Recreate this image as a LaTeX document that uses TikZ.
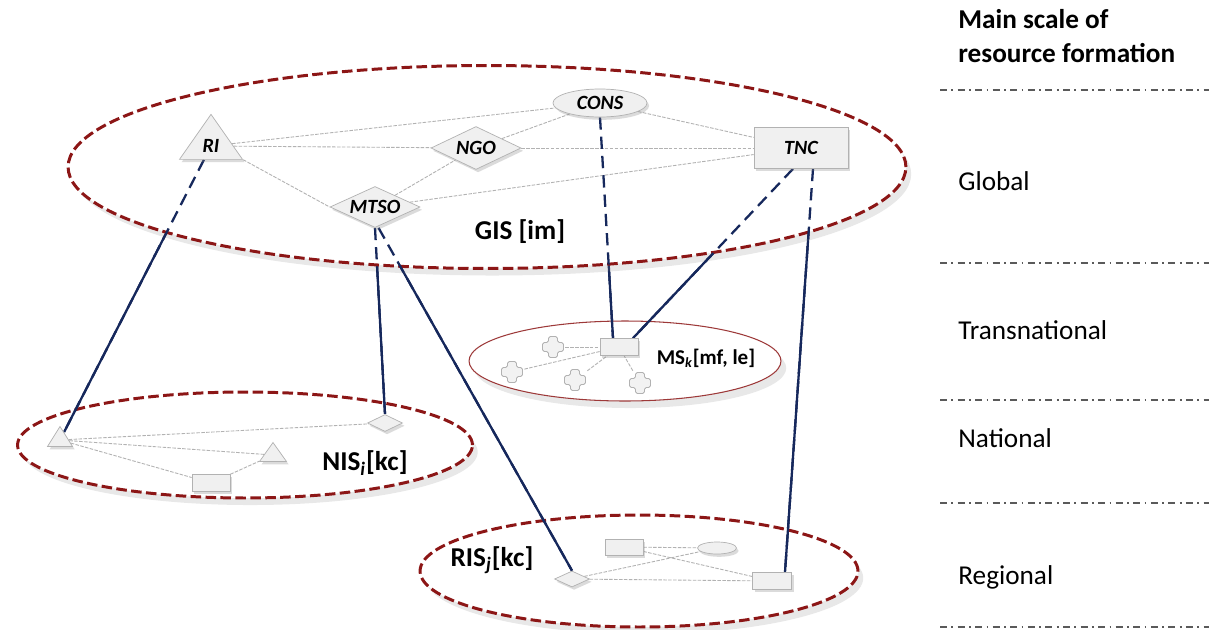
\documentclass[tikz,border=0pt]{standalone}
\usepackage{fontspec}
\setmainfont{Carlito}
\usetikzlibrary{calc}
\usetikzlibrary{positioning}
\usetikzlibrary{shapes.geometric}
\usetikzlibrary{shadows}
\definecolor{ringred}{RGB}{140,22,22}
\definecolor{linkblue}{RGB}{22,40,92}
\definecolor{levelgray}{RGB}{90,90,90}
\pgfdeclarelayer{ring}
\pgfdeclarelayer{wire}
\pgfdeclarelayer{cover}
\pgfdeclarelayer{link}
\pgfsetlayers{ring,wire,cover,link,main}
\tikzset{
	softshadow/.style={drop shadow={shadow xshift=1.2pt, shadow yshift=-1.6pt, opacity=0.28}},
	ringshadow/.style={drop shadow={shadow xshift=3pt, shadow yshift=-4pt, opacity=0.18}},
	scalering/.style={
		ellipse,
		draw=ringred, line width=1.7pt,
		dash pattern=on 6pt off 2.5pt,
		fill=white,
		ringshadow},
	thinring/.style={
		ellipse,
		draw=ringred!85, line width=0.6pt,
		fill=white,
		ringshadow},
	actor/.style={
		draw=gray!60,
		fill=gray!12,
		inner sep=1pt,
		font=\fontsize{11.5}{13}\selectfont\bfseries\itshape,
		softshadow},
	tri/.style={actor, isosceles triangle, isosceles triangle stretches, shape border rotate=90},
	diam/.style={actor, diamond, aspect=2.2, inner sep=0pt},
	oval/.style={actor, ellipse},
	box/.style={actor, rectangle},
	unit/.style={
		minimum size=0.48cm, inner sep=0pt,
		path picture={
			\filldraw[fill=gray!10, draw=gray!60, line width=0.5pt, rounded corners=1pt]
				([shift={(-4.5,-10.5)}]path picture bounding box.center) -- ++(9,0) -- ++(0,6) -- ++(6,0)
				-- ++(0,9) -- ++(-6,0) -- ++(0,6) -- ++(-9,0) -- ++(0,-6) -- ++(-6,0) -- ++(0,-9)
				-- ++(6,0) -- cycle;}},
	tie/.style={draw=gray!60, line width=0.5pt, dash pattern=on 2pt off 0.8pt},
	bond/.style={draw=linkblue, line width=1.3pt},
	bonddash/.style={bond, dash pattern=on 7pt off 4pt},
	scaletag/.style={anchor=base west, inner sep=0pt, font=\fontsize{15.5}{18}\selectfont\bfseries},
	leveltag/.style={anchor=base west, inner sep=0pt, font=\fontsize{15.5}{18}\selectfont},
	levelline/.style={draw=levelgray, line width=0.8pt, dash pattern=on 4pt off 2.5pt on 1pt off 2.5pt},
}

\begin{document}
\begin{tikzpicture}[x=0.02cm, y=-0.02cm]
	\useasboundingbox (0,0) rectangle (1209,629);

	% the scales of resource formation
	\begin{pgfonlayer}{ring}
		\node[thinring, minimum width=6.24cm, minimum height=1.6cm] (ms) at (625,361) {};
		\node[scalering, minimum width=9.1cm, minimum height=2.12cm] (nis) at (245,445) {};
		\node[scalering, minimum width=8.76cm, minimum height=2.24cm] (ris) at (639,571) {};
	\end{pgfonlayer}
	\begin{pgfonlayer}{cover}
		\node[scalering, minimum width=16.76cm, minimum height=4.06cm] (gis) at (487,167) {};
	\end{pgfonlayer}

	% GIS
	\node[tri, minimum width=1.26cm, minimum height=0.9cm] (ri) at (211,146) {RI};
	\node[diam, minimum width=1.8cm, minimum height=0.86cm] (ngo) at (476,148) {NGO};
	\node[diam, minimum width=1.8cm, minimum height=0.82cm] (mtso) at (375,207) {MTSO};
	\node[oval, minimum width=1.88cm, minimum height=0.56cm] (cons) at (600,103) {CONS};
	\node[box, minimum width=1.88cm, minimum height=0.82cm] (tnc) at (801,148) {TNC};
	\node[font=\fontsize{15.5}{18}\selectfont\bfseries] (gislabel) at (520,232) {GIS [im]};

	% MS
	\node[box, minimum width=0.76cm, minimum height=0.34cm] (msb) at (619,347) {};
	\node[unit] (p1) at (553,347) {};
	\node[unit] (p2) at (512,372) {};
	\node[unit] (p3) at (575,380) {};
	\node[unit] (p4) at (640,383) {};
	\node[font=\fontsize{12}{14}\selectfont\bfseries] (mslabel) at (706,358) {MS\textsubscript{\itshape k}[mf, le]};

	% NIS
	\node[tri, minimum width=0.5cm, minimum height=0.4cm] (tl) at (60,440) {};
	\node[tri, minimum width=0.54cm, minimum height=0.38cm] (tr) at (273,455) {};
	\node[box, minimum width=0.76cm, minimum height=0.34cm] (nb) at (211,483) {};
	\node[diam, minimum width=0.7cm, minimum height=0.34cm] (nd) at (385,423) {};
	\node[font=\fontsize{15.5}{18}\selectfont\bfseries] (nislabel) at (365,463) {NIS\textsubscript{\itshape i}[kc]};

	% RIS
	\node[box, minimum width=0.76cm, minimum height=0.32cm] (rb) at (624,547) {};
	\node[oval, minimum width=0.78cm, minimum height=0.24cm] (re) at (717,548) {};
	\node[diam, minimum width=0.7cm, minimum height=0.32cm] (rd) at (572,579) {};
	\node[box, minimum width=0.78cm, minimum height=0.34cm] (rr) at (772,581) {};
	\node[font=\fontsize{15.5}{18}\selectfont\bfseries] (rislabel) at (492,560) {RIS\textsubscript{\itshape j}[kc]};

	% links inside the scales
	\begin{pgfonlayer}{link}
		\foreach \a/\b in {ri/cons, ri/ngo, mtso/ngo, mtso/tnc, ngo/cons, ngo/tnc, cons/tnc,
				tl/nd, tl/tr, tl/nb, nb/tr, p1/msb, p2/msb, p3/msb, p4/msb, rb/re, rb/rr, rd/re, rd/rr}
			\draw[tie] (\a) -- (\b);
		\draw[tie] (ri.right corner) -- (mtso.west);
	\end{pgfonlayer}

	% links between the scales
	\begin{pgfonlayer}{wire}
		\draw[bond] (ri) -- (tl);
		\draw[bond] (mtso.south) -- (nd.north);
		\draw[bond] ([xshift=2pt]mtso.south) -- (rd.north);
		\draw[bond] (cons.south) -- ([xshift=-0.12cm]msb.north);
		\draw[bond] ([xshift=-0.16cm]tnc.south) -- ([xshift=0.28cm]msb.north);
		\draw[bond] ([xshift=0.24cm]tnc.south) -- ([xshift=0.26cm]rr.north);
	\end{pgfonlayer}
	\begin{pgfonlayer}{link}
		\draw[bonddash] (ri) -- (tl);
		\draw[bonddash] (mtso.south) -- (nd.north);
		\draw[bonddash] ([xshift=2pt]mtso.south) -- (rd.north);
		\draw[bonddash] (cons.south) -- ([xshift=-0.12cm]msb.north);
		\draw[bonddash] ([xshift=-0.16cm]tnc.south) -- ([xshift=0.28cm]msb.north);
		\draw[bonddash] ([xshift=0.24cm]tnc.south) -- ([xshift=0.26cm]rr.north);
	\end{pgfonlayer}

	% main scale column
	\node[scaletag] (scale1) at (958,28) {Main scale of};
	\node[scaletag] (scale2) at (958,62) {resource formation};
	\foreach \y in {90,263,400,503,627}
		\draw[levelline] (940,\y) -- (1209,\y);
	\node[leveltag] (global) at (958,190) {Global};
	\node[leveltag] (transnational) at (958,339) {Transnational};
	\node[leveltag] (national) at (958,447) {National};
	\node[leveltag] (regional) at (958,584) {Regional};
\end{tikzpicture}
\end{document}
